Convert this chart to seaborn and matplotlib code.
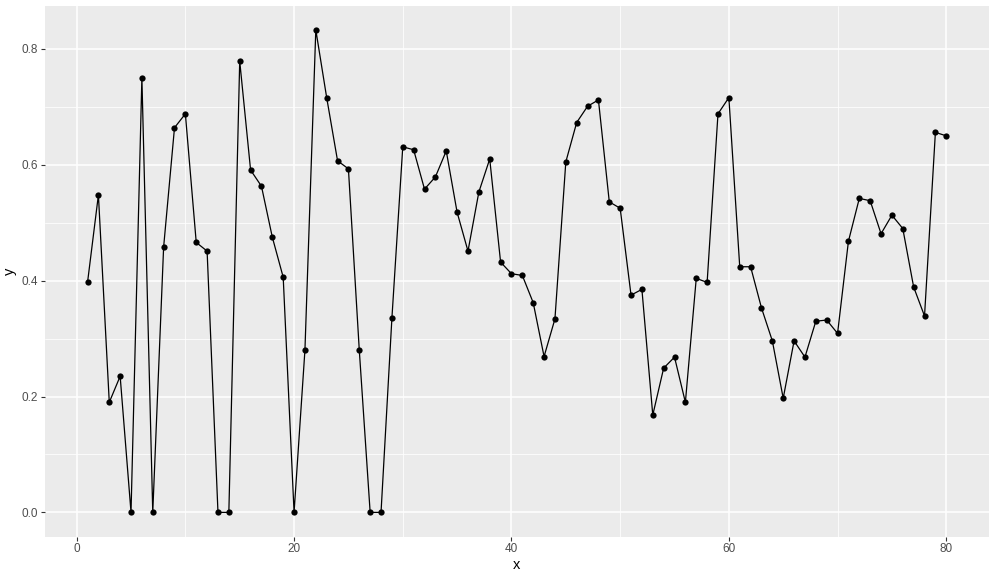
import matplotlib
matplotlib.use("Agg")
import matplotlib.pyplot as plt
from matplotlib.ticker import FixedLocator
import numpy as np
import pandas as pd
import seaborn as sns

x_vals = list(range(1, 81))
y_vals = [0.397, 0.548, 0.190, 0.235, 0.000, 0.750, 0.000, 0.458, 0.664, 0.688,
          0.466, 0.451, 0.000, 0.000, 0.779, 0.591, 0.563, 0.475, 0.406, 0.000,
          0.280, 0.833, 0.716, 0.607, 0.593, 0.280, 0.000, 0.000, 0.335, 0.631,
          0.626, 0.558, 0.579, 0.624, 0.518, 0.451, 0.553, 0.610, 0.432, 0.412,
          0.409, 0.362, 0.269, 0.334, 0.605, 0.673, 0.701, 0.712, 0.536, 0.525,
          0.375, 0.385, 0.168, 0.249, 0.268, 0.190, 0.404, 0.397, 0.688, 0.716,
          0.424, 0.424, 0.353, 0.296, 0.197, 0.296, 0.268, 0.330, 0.332, 0.309,
          0.468, 0.542, 0.538, 0.481, 0.513, 0.490, 0.389, 0.339, 0.656, 0.650]
x_ticks = [0, 20, 40, 60, 80]
y_ticks = [0.0, 0.2, 0.4, 0.6, 0.8]
y_tick_labels = ["0.0", "0.2", "0.4", "0.6", "0.8"]

df = pd.DataFrame({"x": x_vals, "y": y_vals})

sns.set_theme(style="white")
plt.rcParams['font.family'] = ['Liberation Sans', 'DejaVu Sans']

fig = plt.figure(figsize=(9.95, 5.8), dpi=100)
left, right, top, bottom = 44.6, 989.2, 5.7, 536.5
ax = fig.add_axes([left/995, 1 - bottom/580, (right-left)/995, (bottom-top)/580])
ax.set_facecolor("#EBEBEB")

sns.lineplot(data=df, x="x", y="y", ax=ax, color="black", linewidth=0.9,
             marker="o", markersize=4.5, markeredgewidth=0, zorder=3)

xmin, xmax = min(x_vals), max(x_vals)
xr = xmax - xmin
ax.set_xlim(xmin - 0.05*xr, xmax + 0.05*xr)
ymin, ymax = min(y_vals), max(y_vals)
yr = ymax - ymin
ax.set_ylim(ymin - 0.05*yr, ymax + 0.05*yr)

ax.xaxis.set_major_locator(FixedLocator(x_ticks))
ax.yaxis.set_major_locator(FixedLocator(y_ticks))
ax.set_yticklabels(y_tick_labels)
ax.xaxis.set_minor_locator(FixedLocator([10, 30, 50, 70]))
ax.yaxis.set_minor_locator(FixedLocator([0.1, 0.3, 0.5, 0.7]))

ax.grid(True, which="major", color="white", linewidth=1.1, zorder=0)
ax.grid(True, which="minor", color="white", linewidth=0.55, zorder=0)
ax.set_axisbelow(True)
for s in ax.spines.values():
    s.set_visible(False)

ax.tick_params(axis="both", which="major", length=3.0, width=0.8, color="#333333",
               labelsize=8.5, labelcolor="#4D4D4D", pad=2, direction="out",
               bottom=True, left=True)
ax.tick_params(axis="both", which="minor", length=0)

ax.set_xlabel("x", fontsize=10.5, color="black", labelpad=2)
ax.set_ylabel("y", fontsize=10.5, color="black", labelpad=3)

fig.savefig("out.png", dpi=100)
